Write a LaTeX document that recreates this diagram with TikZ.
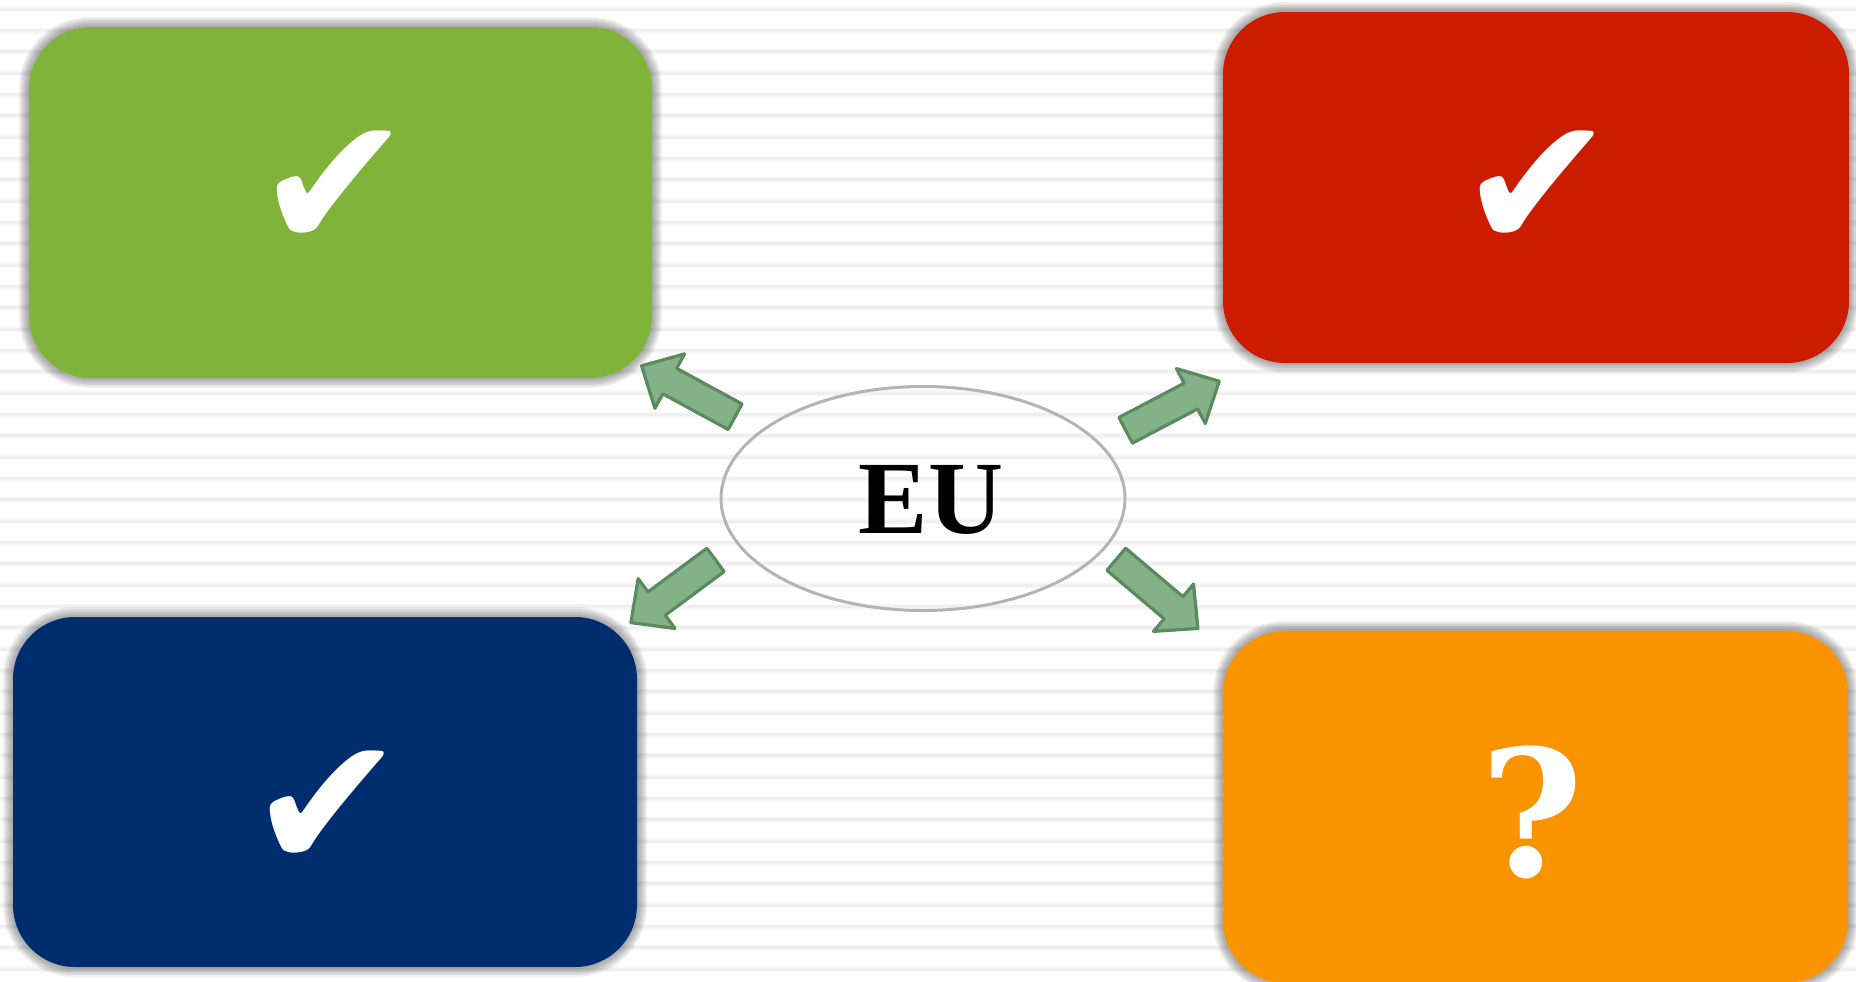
\documentclass[tikz,border=0pt]{standalone}
\usepackage{fontspec}
\usetikzlibrary{calc,shapes.geometric}
\newfontfamily\lserif{Liberation Serif}
\newfontfamily\dserif{DejaVu Serif}
\newfontfamily\djv{DejaVu Sans}
\definecolor{cgreen}{HTML}{80B33A}
\definecolor{cred}{HTML}{CC1C00}
\definecolor{cblue}{HTML}{002D6E}
\definecolor{corange}{HTML}{F99300}
\definecolor{afill}{HTML}{84B288}
\definecolor{aline}{HTML}{5A8A5E}
\definecolor{stripecol}{HTML}{F0F0F0}
\definecolor{stripesoft}{HTML}{F8F8F8}
\definecolor{egray}{HTML}{B4B4B4}
\pgfdeclarelayer{bg}
\pgfdeclarelayer{shadow}
\pgfsetlayers{bg,shadow,main}
\tikzset{
  box/.style={rounded corners=31pt, inner sep=0pt},
  arr/.style={fill=afill, draw=aline, line width=1.6pt, line join=round},
  checktext/.style={text=white, inner sep=0pt, font=\djv\fontsize{94}{94}\selectfont},
  eutext/.style={inner sep=0pt, font=\lserif\bfseries\fontsize{52}{52}\selectfont},
  qtext/.style={text=white, inner sep=0pt, font=\dserif\bfseries\fontsize{88}{88}\selectfont},
  ring/.style={ellipse, draw=egray, line width=1.5pt, minimum width=202pt, minimum height=112pt, inner sep=0pt},
}
\newcommand\glowbox[1]{%
  \begin{pgfonlayer}{shadow}
  \foreach \i in {1,...,6}{%
    \pgfmathsetmacro\rr{31+0.75*\i}%
    \fill[black, opacity=0.06, rounded corners=\rr pt]
      ($(#1.north west)+(-1.6*\i,-1.6*\i)$) rectangle ($(#1.south east)+(1.6*\i,1.6*\i)$);
  }
  \end{pgfonlayer}}
\newcommand\blockarrow[2]{% tail, tip
  \coordinate (#1base) at ($(#2)!16pt!(#1)$);
  \draw[arr] ($(#1)!7.25pt!90:(#2)$) -- ($(#1base)!7.25pt!90:(#2)$)
     -- ($(#1base)!15.5pt!90:(#2)$) -- (#2)
     -- ($(#1base)!15.5pt!-90:(#2)$) -- ($(#1base)!7.25pt!-90:(#2)$)
     -- ($(#1)!7.25pt!-90:(#2)$) -- cycle;}
\begin{document}
\begin{tikzpicture}[x=0.5pt,y=-0.5pt]
\useasboundingbox (0,0) rectangle (1856,981);
\clip (0,0) rectangle (1856,981);
\begin{pgfonlayer}{bg}
  \fill[white] (0,0) rectangle (1856,981);
  \foreach \k in {0,...,45}{%
    \draw[stripesoft, line width=3pt] (0,9.3+21.33*\k) -- (1856,9.3+21.33*\k);
    \draw[stripecol, line width=1.5pt] (0,9.3+21.33*\k) -- (1856,9.3+21.33*\k);
  }
\end{pgfonlayer}
% boxes
\node[box, fill=cgreen, minimum width=311.5pt, minimum height=175.5pt] (green) at (340.5,202.5) {};
\node[box, fill=cred, minimum width=313pt, minimum height=175.5pt] (red) at (1536,187.5) {};
\node[box, fill=cblue, minimum width=312pt, minimum height=175pt] (blue) at (325,792) {};
\node[box, fill=corange, minimum width=312.5pt, minimum height=176pt] (orange) at (1535.5,807) {};
\glowbox{green}
\glowbox{red}
\glowbox{blue}
\glowbox{orange}
% symbols
\node[checktext] (chkg) at (334,190) {✔};
\node[checktext] (chkr) at (1537,190) {✔};
\node[checktext] (chkb) at (327,810) {✔};
\node[qtext] (q) at (1532,812) {?};
% centre
\node[ring] (ring) at (923,498.5) {};
\node[eutext] (eu) at (931,500) {EU};
% arrows
\coordinate (ulT) at (735.1,416.7);  \coordinate (ulP) at (641.6,365.8);
\coordinate (urT) at (1125.7,430.3); \coordinate (urP) at (1219.2,381.2);
\coordinate (llT) at (715.5,559.9);  \coordinate (llP) at (630.9,622.6);
\coordinate (lrT) at (1116.3,559.3); \coordinate (lrP) at (1197.9,628.4);
\blockarrow{ulT}{ulP}
\blockarrow{urT}{urP}
\blockarrow{llT}{llP}
\blockarrow{lrT}{lrP}
\end{tikzpicture}
\end{document}
